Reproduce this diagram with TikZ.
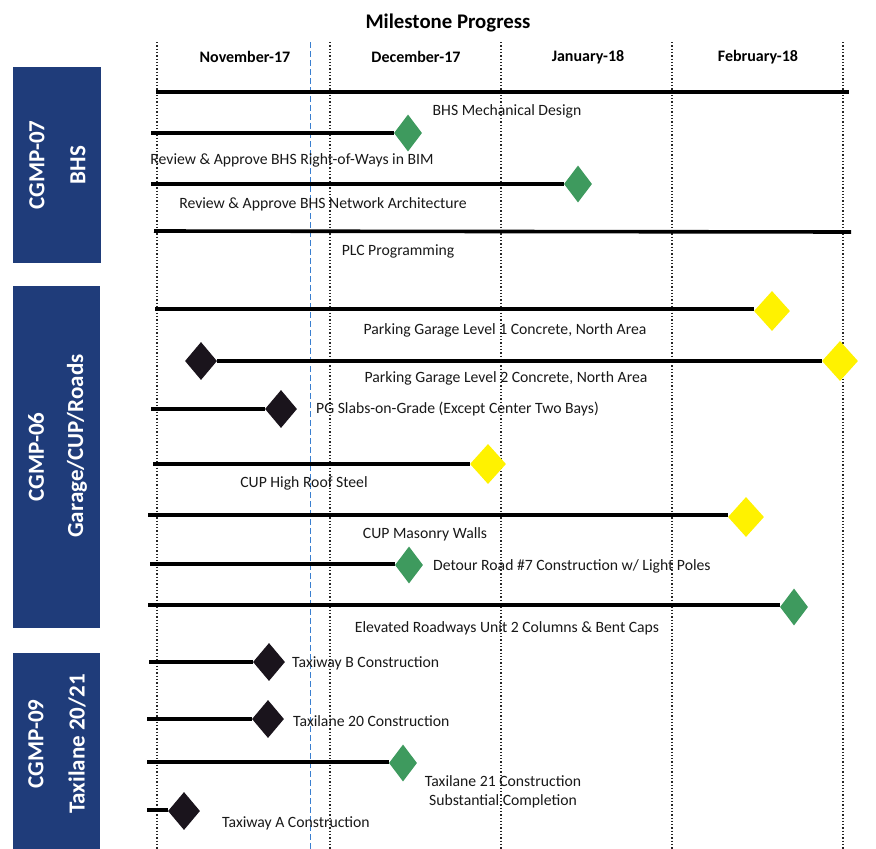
\documentclass[tikz,border=0pt]{standalone}
\usepackage{fontspec}
\setmainfont{Carlito}
\usetikzlibrary{shapes.geometric}
\definecolor{navy}{HTML}{1F3C7A}
\definecolor{msgreen}{HTML}{3E9A5E}
\definecolor{msyellow}{HTML}{FFF200}
\definecolor{msblack}{HTML}{1A141C}
\definecolor{gridblue}{HTML}{3A7FD0}
\begin{document}
\begin{tikzpicture}[x=1pt,y=-1pt,
  bar/.style={line width=3.6pt, draw=black},
  gdia/.style={diamond, inner sep=0pt, minimum width=28pt, minimum height=37pt, fill=msgreen},
  ydia/.style={diamond, inner sep=0pt, minimum width=36pt, minimum height=40pt, fill=msyellow},
  kdia/.style={diamond, inner sep=0pt, minimum width=32pt, minimum height=38pt, fill=msblack},
  lbl/.style={font=\fontsize{15.7}{19.5}\selectfont, text=black!90, inner sep=0pt},
  month/.style={font=\bfseries\fontsize{16}{19}\selectfont, inner sep=0pt},
  grp/.style={fill=navy, draw=none},
  grptext/.style={font=\bfseries\fontsize{23}{26}\selectfont, text=white, rotate=90, inner sep=0pt},
  grid/.style={dotted, line width=1.3pt, draw=black!85},
  today/.style={dashed, dash pattern=on 6pt off 3pt, line width=0.7pt, draw=gridblue}
]
\useasboundingbox[fill=white] (0,0) rectangle (876,849);

% title
\node[font=\bfseries\fontsize{20.8}{24}\selectfont, inner sep=0pt] (title) at (448,23) {Milestone Progress};

% month grid
\foreach \n/\x in {g0/157,g1/330,g2/501,g3/672,g4/843}{
  \coordinate (\n t) at (\x,42);
  \coordinate (\n b) at (\x,849);
  \draw[grid] (\n t) -- (\n b);
}
\coordinate (todayt) at (310,42);
\coordinate (todayb) at (310,849);
\draw[today] (todayt) -- (todayb);

\node[month] (m1) at (245,57) {November-17};
\node[month] (m2) at (416,57) {December-17};
\node[month] (m3) at (588,57) {January-18};
\node[month] (m4) at (758,57) {February-18};

% group boxes
\fill[grp] (13,67) rectangle (101,263);
\node[grptext] (g07a) at (37,165) {CGMP-07};
\node[grptext] (g07b) at (78,165) {BHS};
\fill[grp] (13,286) rectangle (100,628);
\node[grptext] (g06a) at (36,457) {CGMP-06};
\node[grptext] (g06b) at (77,446) {Garage/CUP/Roads};
\fill[grp] (13,653) rectangle (100,849);
\node[grptext] (g09a) at (36,744) {CGMP-09};
\node[grptext] (g09b) at (77,744) {Taxilane 20/21};

% row 1
\coordinate (s1) at (156,92); \coordinate (e1) at (849,92);
\draw[bar] (s1) -- (e1);
\node[lbl] (l1) at (507,111) {BHS Mechanical Design};
% row 2
\coordinate (s2) at (151,133);
\node[gdia] (d2) at (408,133) {};
\draw[bar] (s2) -- (d2);
\node[lbl] (l2) at (292,160) {Review \& Approve BHS Right-of-Ways in BIM};
% row 3
\coordinate (s3) at (151,184);
\node[gdia] (d3) at (578,184) {};
\draw[bar] (s3) -- (d3);
\node[lbl] (l3) at (323,204) {Review \& Approve BHS Network Architecture};
% row 4
\coordinate (s4) at (154,231); \coordinate (e4) at (851,232);
\draw[bar] (s4) -- (e4);
\node[lbl] (l4) at (398,251) {PLC Programming};
% row 5
\coordinate (s5) at (155,309);
\node[ydia] (d5) at (772,311) {};
\draw[bar] (s5) -- (s5 -| d5.west);
\node[lbl] (l5) at (505,330) {Parking Garage Level 1 Concrete, North Area};
% row 6
\node[kdia] (d6a) at (201,361) {};
\node[ydia] (d6b) at (840,361) {};
\draw[bar] (d6a) -- (d6b);
\node[lbl] (l6) at (506,378) {Parking Garage Level 2 Concrete, North Area};
% row 7
\coordinate (s7) at (151,409);
\node[kdia] (d7) at (281,409) {};
\draw[bar] (s7) -- (d7);
\node[lbl, anchor=west] (l7) at (316,409) {PG Slabs-on-Grade (Except Center Two Bays)};
% row 8
\coordinate (s8) at (153,464);
\node[ydia] (d8) at (488,464) {};
\draw[bar] (s8) -- (d8);
\node[lbl] (l8) at (304,483) {CUP High Roof Steel};
% row 9
\coordinate (s9) at (148,515);
\node[ydia] (d9) at (746,517) {};
\draw[bar] (s9) -- (s9 -| d9.west);
\node[lbl] (l9) at (425,534) {CUP Masonry Walls};
% row 10
\coordinate (s10) at (150,564);
\node[gdia] (d10) at (409,565) {};
\draw[bar] (s10) -- (s10 -| d10.west);
\node[lbl, anchor=west] (l10) at (433,566) {Detour Road \#7 Construction w/ Light Poles};
% row 11
\coordinate (s11) at (148,605);
\node[gdia] (d11) at (794,607) {};
\draw[bar] (s11) -- (s11 -| d11.west);
\node[lbl] (l11) at (507,628) {Elevated Roadways Unit 2 Columns \& Bent Caps};
% row 12
\coordinate (s12) at (149,662);
\node[kdia] (d12) at (269,662) {};
\draw[bar] (s12) -- (d12);
\node[lbl, anchor=west] (l12) at (292,663) {Taxiway B Construction};
% row 13
\coordinate (s13) at (147,719);
\node[kdia] (d13) at (268,719) {};
\draw[bar] (s13) -- (d13);
\node[lbl, anchor=west] (l13) at (293,721) {Taxilane 20 Construction};
% row 14
\coordinate (s14) at (147,762);
\node[gdia] (d14) at (403,763) {};
\draw[bar] (s14) -- (s14 -| d14.west);
\node[lbl, align=center] (l14) at (503,792) {Taxilane 21 Construction\\Substantial Completion};
% row 15
\coordinate (s15) at (147,810);
\node[kdia] (d15) at (184,811) {};
\draw[bar] (s15) -- (s15 -| d15.west);
\node[lbl, anchor=west] (l15) at (222,823) {Taxiway A Construction};
\end{tikzpicture}
\end{document}
